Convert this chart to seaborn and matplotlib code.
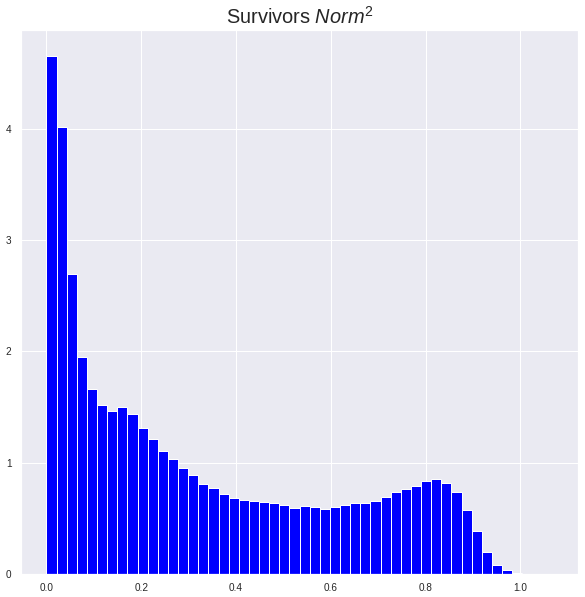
import numpy as np
import pandas as pd
import seaborn as sns
import matplotlib.pyplot as plt

# density of each histogram bin (50 equal bins from 0 to the max value)
bin_heights = [
  4.66, 4.02, 2.70, 1.95, 1.66, 1.52, 1.46, 1.50, 1.44, 1.31,
  1.21, 1.10, 1.03, 0.95, 0.886, 0.805, 0.77, 0.72, 0.68, 0.664,
  0.651, 0.642, 0.633, 0.615, 0.588, 0.606, 0.597, 0.579, 0.597, 0.615,
  0.633, 0.633, 0.651, 0.687, 0.732, 0.759, 0.786, 0.832, 0.85, 0.814,
  0.732, 0.570, 0.381, 0.192, 0.075, 0.030, 0.005, 0.001, 0.0, 0.001,
]
range_min = 0.0
range_max = 1.068
title = "Survivors $Norm^2$"

n_bins = len(bin_heights)
edges = np.linspace(range_min, range_max, n_bins + 1)
df = pd.DataFrame({
  "norm2": (edges[:-1] + edges[1:]) / 2,
  "density": bin_heights,
})

sns.set_theme(style="darkgrid")
plt.rcParams['font.family'] = ['Liberation Sans', 'DejaVu Sans']
plt.rcParams['mathtext.fontset'] = 'custom'
plt.rcParams['mathtext.rm'] = 'Liberation Sans'
plt.rcParams['mathtext.it'] = 'Liberation Sans:italic'

fig, ax = plt.subplots(figsize=(585 / 72, 597 / 72), dpi=72)
fig.subplots_adjust(left=0.036, right=0.988, top=0.95, bottom=0.039)

sns.histplot(data=df, x="norm2", weights="density", bins=n_bins,
             binrange=(range_min, range_max), stat="count",
             color="blue", alpha=1, edgecolor="white", linewidth=1, ax=ax)

ax.set_title(title, fontsize=20)
ax.set_xlabel("")
ax.set_ylabel("")
ax.set_xticks([0.0, 0.2, 0.4, 0.6, 0.8, 1.0])
ax.set_yticks([0, 1, 2, 3, 4])
ax.tick_params(labelsize=10)

fig.savefig("out.png", dpi=72)
